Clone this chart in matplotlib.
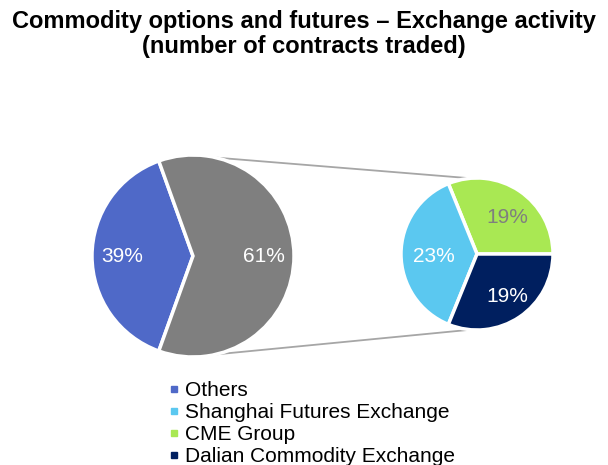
import matplotlib.pyplot as plt
import numpy as np

plt.rcParams['font.family'] = ['Liberation Sans', 'DejaVu Sans']

# data
main_labels = ['Others', 'Rest']
main_values = [39, 61]
sub_labels = ['CME Group', 'Shanghai Futures Exchange', 'Dalian Commodity Exchange']
sub_values = [19, 23, 19]
legend_order = ['Others', 'Shanghai Futures Exchange', 'CME Group', 'Dalian Commodity Exchange']

colors = {'Others': '#4f69c8', 'Rest': '#7f7f7f',
          'Shanghai Futures Exchange': '#5bc8f0', 'CME Group': '#a9e853',
          'Dalian Commodity Exchange': '#001f5f'}
text_colors = {'Others': 'white', 'Rest': 'white',
               'Shanghai Futures Exchange': 'white', 'CME Group': '#7f7f7f',
               'Dalian Commodity Exchange': 'white'}

fig = plt.figure(figsize=(6.08, 4.65), dpi=100)
ax = fig.add_axes([0, 0, 1, 1])

H = 465
c1, r1 = (193, H - 256), 101
c2, r2 = (477, H - 254), 76

# left pie, 61% piece centred on the right side
start1 = 180 - main_values[0] / sum(main_values) * 360 / 2
ax.pie(main_values, colors=[colors[l] for l in main_labels],
       startangle=start1, center=c1, radius=r1, frame=True,
       wedgeprops=dict(edgecolor='white', linewidth=2.5))
tot1 = sum(main_values)
ang = start1
for lab, v in zip(main_labels, main_values):
    span = v / tot1 * 360
    mid = np.deg2rad(ang + span / 2)
    ax.text(c1[0] + 0.7 * r1 * np.cos(mid), c1[1] + 0.7 * r1 * np.sin(mid) - 1,
            f'{v}%', ha='center', va='center', fontsize=15, color=text_colors[lab])
    ang += span

# right pie
ax.pie(sub_values, colors=[colors[l] for l in sub_labels],
       startangle=0, center=c2, radius=r2, frame=True,
       wedgeprops=dict(edgecolor='white', linewidth=2.5))
tot2 = sum(sub_values)
ang = 0
for lab, v in zip(sub_labels, sub_values):
    span = v / tot2 * 360
    mid = np.deg2rad(ang + span / 2)
    ax.text(c2[0] + 0.62 * r2 * np.cos(mid) + 4, c2[1] + 0.62 * r2 * np.sin(mid) - 3,
            f'{v}%', ha='center', va='center', fontsize=15, color=text_colors[lab])
    ang += span

# connector lines
for s in (1, -1):
    a1 = np.deg2rad(s * 77)
    a2 = np.deg2rad(s * 95)
    ax.plot([c1[0] + r1 * np.cos(a1), c2[0] + r2 * np.cos(a2)],
            [c1[1] + r1 * np.sin(a1), c2[1] + r2 * np.sin(a2)],
            color='#a6a6a6', lw=1.3, zorder=0)

ax.set_xlim(0, 608)
ax.set_ylim(0, H)
ax.set_aspect('equal')
ax.axis('off')

fig.text(0.5, 1 - 34 / H, 'Commodity options and futures \u2013 Exchange activity\n(number of contracts traded)',
         ha='center', va='center', fontsize=17, fontweight='bold', linespacing=1.15)

handles = [plt.Line2D([], [], marker='s', ls='none', ms=5, color=colors[l]) for l in legend_order]
fig.legend(handles, legend_order, loc='upper left', bbox_to_anchor=(166 / 608, 1 - 381 / H),
           frameon=False, fontsize=15, handletextpad=0.1, labelspacing=0.15,
           handlelength=0.8, borderpad=0, borderaxespad=0)

fig.savefig('out.png', dpi=100)
